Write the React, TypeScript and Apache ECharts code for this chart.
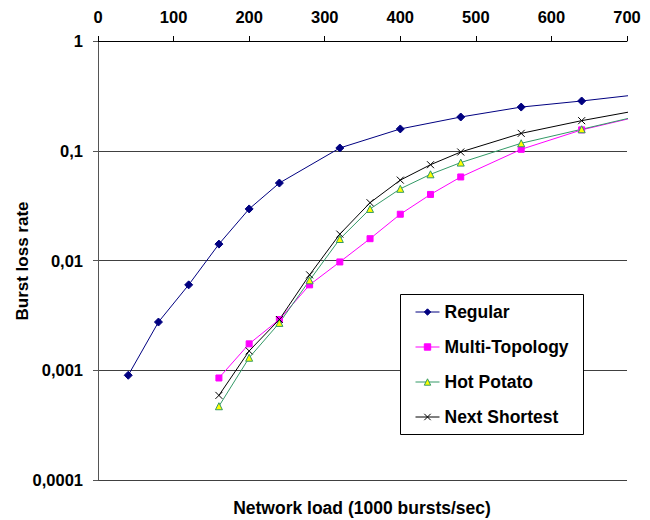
import React, { useEffect, useRef } from "react";
import * as echarts from "echarts";

const FONT = "'Liberation Sans', Arial, sans-serif";

const seriesNames = ["Regular", "Multi-Topology", "Hot Potato", "Next Shortest"];
const xTickLabels = ["0", "100", "200", "300", "400", "500", "600", "700"];
const yTickLabels = ["0,0001", "0,001", "0,01", "0,1", "1"];

const loadRegular = [40, 80, 120, 160, 200, 240, 320, 400, 480, 560, 640, 720];
const regular = [0.0009, 0.00275, 0.006, 0.0141, 0.0295, 0.0508, 0.106, 0.158, 0.203, 0.25, 0.284, 0.328];

const loadOthers = [160, 200, 240, 280, 320, 360, 400, 440, 480, 560, 640, 720];
const multiTopology = [0.00085, 0.00174, 0.0029, 0.006, 0.0097, 0.0158, 0.0264, 0.04, 0.0577, 0.103, 0.155, 0.209];
const hotPotato = [0.00047, 0.0013, 0.0027, 0.0066, 0.0157, 0.0295, 0.045, 0.061, 0.078, 0.117, 0.157, 0.211];
const nextShortest = [0.00059, 0.0015, 0.0029, 0.0074, 0.0174, 0.0336, 0.054, 0.0746, 0.0974, 0.144, 0.188, 0.237];

const X_SYMBOL = "path://M0,0L10,10M10,0L0,10";

function pairs(xs: number[], ys: number[]) {
  return xs.map((x, i) => [x, ys[i]]);
}

export default function App() {
  const ref = useRef<HTMLDivElement>(null);
  useEffect(() => {
    if (!ref.current) return;
    const chart = echarts.init(ref.current, undefined, { renderer: "svg" });
    const styles = [
      { line: "#000080", fill: "#000080", border: "#000080", symbol: "diamond", size: 8 },
      { line: "#FF00FF", fill: "#FF00FF", border: "#FF00FF", symbol: "rect", size: 6 },
      { line: "#339966", fill: "#FFFF00", border: "#339966", symbol: "triangle", size: 7 },
      { line: "#000000", fill: "#000000", border: "#000000", symbol: X_SYMBOL, size: 7 },
    ];
    const datas = [
      pairs(loadRegular, regular),
      pairs(loadOthers, multiTopology),
      pairs(loadOthers, hotPotato),
      pairs(loadOthers, nextShortest),
    ];
    const option: any = {
      animation: false,
      backgroundColor: "#fff",
      textStyle: { fontFamily: FONT },
      grid: { left: 98, right: 23, top: 41, bottom: 40, containLabel: false },
      xAxis: {
        type: "value",
        position: "top",
        min: 0,
        max: 700,
        interval: 100,
        axisLine: { show: true, lineStyle: { color: "#000", width: 1 } },
        axisTick: { show: true, inside: false, length: 5, lineStyle: { color: "#000" } },
        splitLine: { show: false },
        axisLabel: {
          margin: 16,
          fontSize: 16.5,
          fontWeight: "bold",
          fontFamily: FONT,
          color: "#000",
          formatter: (v: number) => xTickLabels[Math.round(v / 100)] ?? String(v),
        },
      },
      yAxis: {
        type: "log",
        logBase: 10,
        min: 0.0001,
        max: 1,
        axisLine: { show: true, lineStyle: { color: "#555", width: 1 } },
        axisTick: { show: true, inside: false, length: 5, lineStyle: { color: "#555" } },
        splitLine: { show: true, lineStyle: { color: "#404040", width: 1 } },
        minorTick: { show: false },
        axisLabel: {
          margin: 15,
          fontSize: 16.5,
          fontWeight: "bold",
          fontFamily: FONT,
          color: "#000",
          formatter: (v: number) => yTickLabels[Math.round(Math.log10(v)) + 4] ?? String(v),
        },
      },
      legend: {
        orient: "vertical",
        left: 415,
        top: 303,
        padding: 0,
        itemWidth: 24,
        itemHeight: 8,
        itemGap: 17,
        z: 5,
        textStyle: { fontSize: 17.5, fontWeight: "bold", fontFamily: FONT, color: "#000" },
        data: seriesNames.map((name, i) => ({
          name,
          itemStyle: { color: styles[i].fill, borderColor: styles[i].border, borderWidth: 1 },
          lineStyle: { color: styles[i].line, width: 1 },
        })),
      },
      graphic: [
        {
          type: "rect",
          z: 3,
          shape: { x: 400.5, y: 294.5, width: 183, height: 140 },
          style: { fill: "#fff", stroke: "#000", lineWidth: 1 },
        },
        {
          type: "text",
          x: 362,
          y: 508,
          style: {
            text: "Network load (1000 bursts/sec)",
            fontSize: 17.5,
            fontWeight: "bold",
            fontFamily: FONT,
            fill: "#000",
            align: "center",
            verticalAlign: "middle",
          },
        },
        {
          type: "text",
          x: 22,
          y: 261,
          rotation: Math.PI / 2,
          style: {
            text: "Burst loss rate",
            fontSize: 17,
            fontWeight: "bold",
            fontFamily: FONT,
            fill: "#000",
            align: "center",
            verticalAlign: "middle",
          },
        },
      ],
      series: seriesNames.map((name, i) => ({
        name,
        type: "line",
        data: datas[i],
        clip: true,
        symbol: styles[i].symbol,
        symbolSize: styles[i].size,
        showAllSymbol: true,
        lineStyle: { color: styles[i].line, width: 1 },
        itemStyle: { color: styles[i].fill, borderColor: styles[i].border, borderWidth: 1 },
        emphasis: { disabled: true },
        z: 2,
      })),
    };
    chart.setOption(option);
    return () => chart.dispose();
  }, []);
  return (
    <div
      ref={ref}
      style={{ position: "fixed", left: 0, top: 0, width: 650, height: 520, background: "#fff" }}
    />
  );
}
